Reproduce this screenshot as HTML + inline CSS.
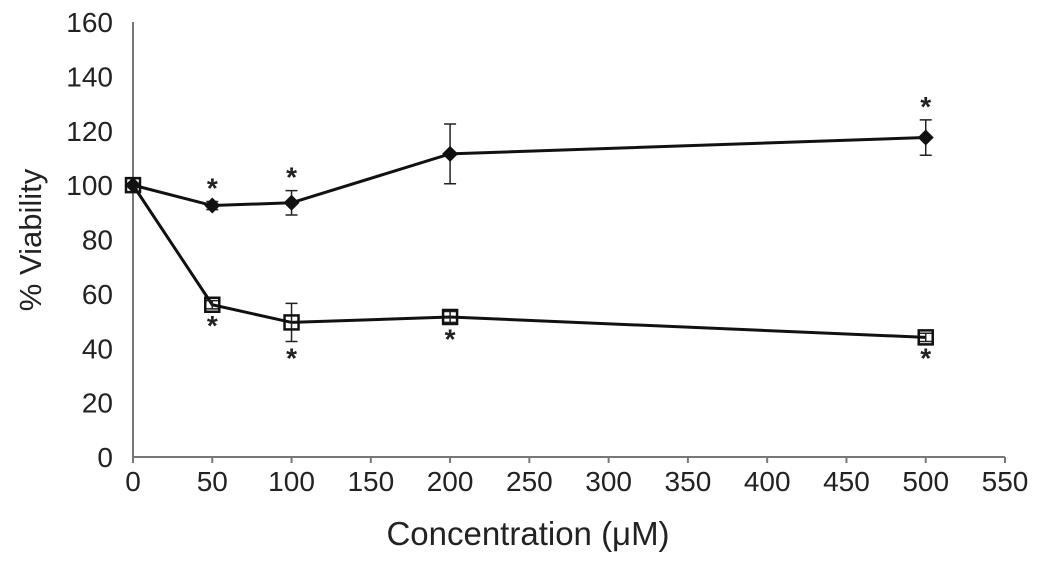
<!DOCTYPE html>
<html><head><meta charset="utf-8"><style>
html,body{margin:0;padding:0;background:#fff;}
svg{display:block;font-family:"Liberation Sans",Arial,sans-serif;}
</style></head><body>
<svg id="chart" width="1044" height="563" viewBox="0 0 1044 563">
<g id="axes"></g><g id="series"></g>
<text x="528" y="545" font-size="33" text-anchor="middle" fill="#222">Concentration (μM)</text>
<text transform="translate(41,240) rotate(-90)" font-size="31" text-anchor="middle" fill="#222">% Viability</text>
</svg>
<script>
const xTicks=[0,50,100,150,200,250,300,350,400,450,500,550];
const yTicks=[0,20,40,60,80,100,120,140,160];
const conc=[0,50,100,200,500];
const diamondVals=[100,92.5,93.5,111.5,117.5];
const diamondErr=[0,1.5,4.5,11,6.5];
const diamondStar=[false,true,true,false,true];
const squareVals=[100,56,49.5,51.5,44];
const squareErr=[0,1.5,7,2,1.5];
const squareStar=[false,true,true,true,true];

const NS='http://www.w3.org/2000/svg';
const X=v=>133+v*(1005-133)/550;
const Y=v=>457-v*(457-22)/160;
function mk(tag,attrs,parent){const e=document.createElementNS(NS,tag);for(const k in attrs)e.setAttribute(k,attrs[k]);parent.appendChild(e);return e;}
const axes=document.getElementById('axes'),ser=document.getElementById('series');
let l=mk('line',{x1:X(0),y1:Y(0),x2:X(550),y2:Y(0),stroke:'#777','stroke-width':2},axes);


l=mk('line',{x1:X(0),y1:Y(0),x2:X(0),y2:Y(160),stroke:'#777','stroke-width':2},axes);


xTicks.forEach(t=>{
 const tk=mk('line',{x1:X(t),y1:Y(0),x2:X(t),y2:Y(0)+6,stroke:'#777','stroke-width':2},axes);
 
 
 const tx=mk('text',{x:X(t),y:Y(0)+34,'font-size':28,'text-anchor':'middle',fill:'#222'},axes);tx.textContent=t;
 
 
});
yTicks.forEach(t=>{
 const tx=mk('text',{x:X(0)-20,y:Y(t)+10,'font-size':28,'text-anchor':'end',fill:'#222'},axes);tx.textContent=t;
 
 
});
function series(vals,err,star,shape,starAbove,name){
 const g=mk('g',{},ser);
 
 
 mk('polyline',{points:conc.map((c,i)=>X(c)+','+Y(vals[i])).join(' '),fill:'none',stroke:'#111','stroke-width':3},g);
 conc.forEach((c,i)=>{
  const x=X(c),y=Y(vals[i]);
  if(err[i]>0){
   const t=Y(vals[i]+err[i]),b=Y(vals[i]-err[i]);
   const e=mk('path',{d:`M${x},${t}V${b}M${x-6},${t}H${x+6}M${x-6},${b}H${x+6}`,stroke:'#222','stroke-width':1.5,fill:'none'},g);
   
   
  }
  let m;
  if(shape==='diamond') m=mk('path',{d:`M${x},${y-8}L${x+8},${y}L${x},${y+8}L${x-8},${y}Z`,fill:'#111'},g);
  else m=mk('rect',{x:x-7,y:y-7,width:14,height:14,fill:'none',stroke:'#111','stroke-width':2.5},g);
  
  
  if(star[i]){
   const sy=starAbove?Y(vals[i]+err[i])-4:Y(vals[i]-err[i])+26;
   const s=mk('text',{x:x,y:sy,'font-size':28,'font-weight':'bold','text-anchor':'middle',fill:'#222'},g);s.textContent='*';
   
   
  }
 });
}
series(diamondVals,diamondErr,diamondStar,'diamond',true,'diamond-series');
series(squareVals,squareErr,squareStar,'square',false,'square-series');
</script>
</body></html>
